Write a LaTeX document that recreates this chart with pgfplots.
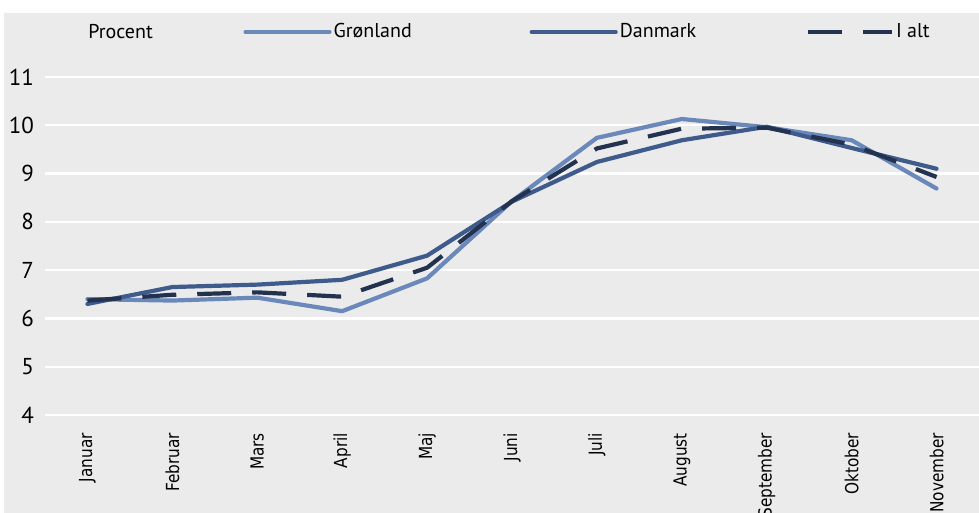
\documentclass[border=0pt]{standalone}
\usepackage{fontspec}
\setmainfont{PT Sans}
\newfontfamily\labfont{DejaVu Sans}[FakeStretch=0.85]
\usepackage{pgfplots}
\pgfplotsset{compat=1.18}
\definecolor{bg}{HTML}{EBEBEB}
\definecolor{gl}{HTML}{6B88BA}
\definecolor{dk}{HTML}{3F5B8C}
\definecolor{ia}{HTML}{22324F}
\begin{document}
\begin{tikzpicture}[x=1pt,y=1pt]
\path[use as bounding box] (0,0) rectangle (489.5,256.5);
\clip (0,0) rectangle (489.5,256.5);
\fill[bg] (2,0) rectangle (489.5,250);
\begin{axis}[at={(22.5pt,49pt)}, anchor=south west, scale only axis,
  width=467pt, height=169pt,
  xmin=-0.5, xmax=10.5, ymin=4, ymax=11,
  axis line style={draw=none}, major tick length=0pt,
  ymajorgrids, grid style={white, line width=1.1pt},
  ytick={4,...,11},
  xtick={0,...,10},
  xticklabels={Januar,Februar,Mars,April,Maj,Juni,Juli,August,September,Oktober,November},
  xticklabel style={rotate=90, anchor=east, font=\labfont\fontsize{9}{10}\selectfont},
  xticklabel shift=5.5pt,
  yticklabel style={font=\fontsize{11.5}{12}\selectfont, xshift=-2pt},
  /pgf/number format/assume math mode=true,
  legend style={at={(rel axis cs:0.212,1.133)}, anchor=west, draw=none, fill=none,
    inner sep=0pt, font=\fontsize{10}{12}\selectfont,
    nodes={inner xsep=1pt}},
  legend columns=3,
  legend image code/.code={\draw[#1] (0pt,0pt) -- (42pt,0pt);},
  every axis plot/.append style={line width=2.1pt, line join=round},
]
\addplot[gl, line cap=round] coordinates {
(0,6.40) (1,6.37) (2,6.43) (3,6.15) (4,6.83) (5,8.43) (6,9.74) (7,10.13) (8,9.96) (9,9.69) (10,8.69)};
\addlegendentry{\makebox[97pt][l]{Grønland}}
\addplot[dk, line cap=round] coordinates {
(0,6.30) (1,6.65) (2,6.70) (3,6.80) (4,7.30) (5,8.42) (6,9.24) (7,9.69) (8,9.97) (9,9.53) (10,9.10)};
\addlegendentry{\makebox[92pt][l]{Danmark}}
\addplot[ia, dash pattern=on 17pt off 10.5pt] coordinates {
(0,6.37) (1,6.49) (2,6.54) (3,6.45) (4,7.05) (5,8.43) (6,9.52) (7,9.93) (8,9.95) (9,9.60) (10,8.93)};
\addlegendentry{I alt}
\end{axis}
\node[anchor=west, inner sep=0pt, font=\fontsize{10}{12}\selectfont] at (44,240.5) {Procent};
\end{tikzpicture}
\end{document}
